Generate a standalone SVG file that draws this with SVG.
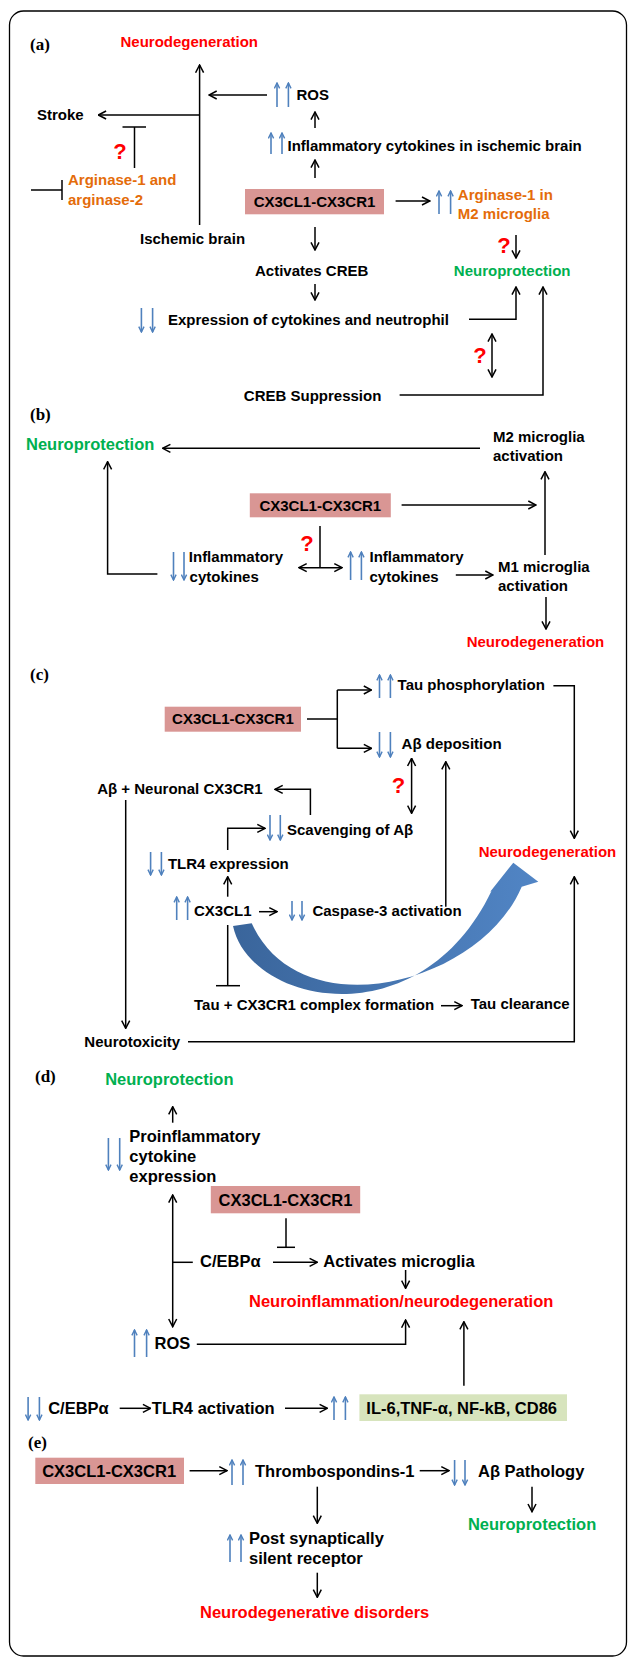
<svg xmlns="http://www.w3.org/2000/svg" width="630" height="1658" viewBox="0 0 630 1658">
<style>
.t{font-family:"Liberation Sans",Arial,sans-serif;font-weight:bold;font-size:15px;fill:#000}
.L{font-size:16.5px}
.red{fill:#ff0000}
.green{fill:#00b050}
.orange{fill:#e46c0a}
.q{font-family:"Liberation Sans",Arial,sans-serif;font-weight:bold;font-size:22px;fill:#ff0000;text-anchor:middle}
.lbl{font-family:"Liberation Serif","Times New Roman",serif;font-weight:bold;font-size:17px;fill:#000}
.c{stroke:#000;stroke-width:1.5;fill:none}
.a{marker-end:url(#ah)}
.d{marker-start:url(#ah);marker-end:url(#ah)}
.b{stroke:#4f81bd;stroke-width:1.6;fill:none;marker-end:url(#bh)}
.box{fill:#d99694}
.gbox{fill:#d7e4bd}
.mid{text-anchor:middle}
</style>
<defs>
<marker id="ah" viewBox="0 0 10 10" refX="9.2" refY="5" markerWidth="10" markerHeight="10" markerUnits="userSpaceOnUse" orient="auto-start-reverse">
<path d="M1.5,1 L9.2,5 L1.5,9" fill="none" stroke="#000" stroke-width="1.5"/>
</marker>
<marker id="bh" viewBox="0 0 8 8" refX="7.2" refY="4" markerWidth="7" markerHeight="7" markerUnits="userSpaceOnUse" orient="auto">
<path d="M1,1 L7.2,4 L1,7" fill="none" stroke="#4f81bd" stroke-width="1.6"/>
</marker>
<linearGradient id="bg" x1="0" y1="0" x2="1" y2="0">
<stop offset="0" stop-color="#3a659b"/>
<stop offset="1" stop-color="#5185c5"/>
</linearGradient>
</defs>
<rect x="0" y="0" width="630" height="1658" fill="#fff"/>
<rect x="9.5" y="11" width="617" height="1645" rx="14" fill="none" stroke="#000" stroke-width="1.3"/>

<!-- panel labels -->
<g id="labels">
<text class="lbl" x="30" y="50">(a)</text>
<text class="lbl" x="30" y="420">(b)</text>
<text class="lbl" x="30" y="680">(c)</text>
<text class="lbl" x="35" y="1082">(d)</text>
<text class="lbl" x="28" y="1448">(e)</text>
</g>

<!-- ===== (a) ===== -->
<g id="a-neurodegeneration"><text class="t red" x="120.5" y="47">Neurodegeneration</text></g>
<g id="a-stroke"><text class="t" x="37" y="120">Stroke</text></g>
<g id="a-ros"><line class="b" x1="277" y1="107" x2="277" y2="83"/><line class="b" x1="288.4" y1="107" x2="288.4" y2="83"/><text class="t" x="296.4" y="100">ROS</text></g>
<g id="a-inflam"><line class="b" x1="271" y1="154" x2="271" y2="133"/><line class="b" x1="282" y1="154" x2="282" y2="133"/><text class="t" x="287.5" y="151">Inflammatory cytokines in ischemic brain</text></g>
<g id="a-arginase12"><text class="t orange" x="68" y="185">Arginase-1 and</text><text class="t orange" x="68" y="205">arginase-2</text></g>
<g id="a-ischemic"><text class="t" x="140" y="244">Ischemic brain</text></g>
<g id="a-cx3"><rect class="box" x="245" y="189" width="139" height="25.3"/><text class="t mid" x="314.5" y="206.5">CX3CL1-CX3CR1</text></g>
<g id="a-arginase-m2"><line class="b" x1="439" y1="214" x2="439" y2="191"/><line class="b" x1="450.6" y1="214" x2="450.6" y2="191"/><text class="t orange" x="457.8" y="200">Arginase-1 in</text><text class="t orange" x="457.8" y="218.5">M2 microglia</text></g>
<g id="a-creb"><text class="t" x="255" y="276">Activates CREB</text></g>
<g id="a-neuroprotection"><text class="t green" x="453.8" y="276">Neuroprotection</text></g>
<g id="a-expression"><line class="b" x1="141.4" y1="308" x2="141.4" y2="332"/><line class="b" x1="152.6" y1="308" x2="152.6" y2="332"/><text class="t" x="168" y="325">Expression of cytokines and neutrophil</text></g>
<g id="a-crebsup"><text class="t" x="243.8" y="401">CREB Suppression</text></g>
<g id="a-q"><text class="q" x="120" y="159">?</text><text class="q" x="504" y="252.5">?</text><text class="q" x="480" y="362.5">?</text></g>

<!-- ===== (b) ===== -->
<g id="b-neuroprotection"><text class="t L green" x="26" y="450">Neuroprotection</text></g>
<g id="b-m2"><text class="t" x="493" y="442">M2 microglia</text><text class="t" x="493" y="460.5">activation</text></g>
<g id="b-cx3"><rect class="box" x="249.8" y="493.3" width="141" height="24"/><text class="t mid" x="320.3" y="510.8">CX3CL1-CX3CR1</text></g>
<g id="b-down-inflam"><line class="b" x1="173.5" y1="552" x2="173.5" y2="580"/><line class="b" x1="184" y1="552" x2="184" y2="580"/><text class="t" x="188.8" y="562">Inflammatory</text><text class="t" x="189.6" y="582">cytokines</text></g>
<g id="b-up-inflam"><line class="b" x1="350.6" y1="580" x2="350.6" y2="552"/><line class="b" x1="361.4" y1="580" x2="361.4" y2="552"/><text class="t" x="369.5" y="562">Inflammatory</text><text class="t" x="369.5" y="582">cytokines</text></g>
<g id="b-m1"><text class="t" x="498" y="572">M1 microglia</text><text class="t" x="498" y="590.5">activation</text></g>
<g id="b-neurodegeneration"><text class="t red" x="466.7" y="647">Neurodegeneration</text></g>
<g id="b-q"><text class="q" x="307" y="550.5">?</text></g>

<!-- ===== (c) ===== -->
<g id="c-cx3"><rect class="box" x="164.7" y="706.7" width="136.3" height="25"/><text class="t mid" x="232.9" y="723.8">CX3CL1-CX3CR1</text></g>
<g id="c-tau"><line class="b" x1="379.5" y1="698" x2="379.5" y2="675"/><line class="b" x1="390.4" y1="698" x2="390.4" y2="675"/><text class="t" x="397.6" y="690">Tau phosphorylation</text></g>
<g id="c-abdep"><line class="b" x1="379.5" y1="732" x2="379.5" y2="757"/><line class="b" x1="390.4" y1="732" x2="390.4" y2="757"/><text class="t" x="401.6" y="748.5">Aβ deposition</text></g>
<g id="c-abneuronal"><text class="t" x="97.2" y="793.5">Aβ + Neuronal CX3CR1</text></g>
<g id="c-scav"><line class="b" x1="270" y1="815" x2="270" y2="840"/><line class="b" x1="280.3" y1="815" x2="280.3" y2="840"/><text class="t" x="287" y="834.5">Scavenging of Aβ</text></g>
<g id="c-tlr4"><line class="b" x1="150.6" y1="852" x2="150.6" y2="875"/><line class="b" x1="161.4" y1="852" x2="161.4" y2="875"/><text class="t" x="167.9" y="868.5">TLR4 expression</text></g>
<g id="c-cx3cl1"><line class="b" x1="176.7" y1="920" x2="176.7" y2="897"/><line class="b" x1="187.6" y1="920" x2="187.6" y2="897"/><text class="t" x="194" y="916">CX3CL1</text></g>
<g id="c-casp"><line class="b" x1="292" y1="901" x2="292" y2="920"/><line class="b" x1="302" y1="901" x2="302" y2="920"/><text class="t" x="312.4" y="916">Caspase-3 activation</text></g>
<g id="c-neurodegeneration"><text class="t red" x="478.7" y="857">Neurodegeneration</text></g>
<g id="c-taucx3"><text class="t" x="194" y="1010">Tau + CX3CR1 complex formation</text></g>
<g id="c-tauclear"><text class="t" x="470.7" y="1008.5">Tau clearance</text></g>
<g id="c-neurotox"><text class="t" x="84.3" y="1047">Neurotoxicity</text></g>
<g id="c-q"><text class="q" x="398.4" y="792.5">?</text></g>

<!-- ===== (d) ===== -->
<g id="d-neuroprotection"><text class="t L green" x="105.2" y="1085">Neuroprotection</text></g>
<g id="d-proinflam"><line class="b" x1="108.4" y1="1138" x2="108.4" y2="1170"/><line class="b" x1="119.7" y1="1138" x2="119.7" y2="1170"/><text class="t L" x="129.3" y="1142">Proinflammatory</text><text class="t L" x="129.3" y="1162">cytokine</text><text class="t L" x="129.3" y="1182">expression</text></g>
<g id="d-cx3"><rect class="box" x="210.8" y="1186" width="149.4" height="27.3"/><text class="t L mid" x="285.5" y="1205.5">CX3CL1-CX3CR1</text></g>
<g id="d-cebp"><text class="t L" x="200" y="1267">C/EBPα</text></g>
<g id="d-activates"><text class="t L" x="323.3" y="1267">Activates microglia</text></g>
<g id="d-neuroinflam"><text class="t L red" x="249" y="1307">Neuroinflammation/neurodegeneration</text></g>
<g id="d-ros"><line class="b" x1="134.5" y1="1357" x2="134.5" y2="1330"/><line class="b" x1="146.6" y1="1357" x2="146.6" y2="1330"/><text class="t L" x="154.6" y="1348.5">ROS</text></g>
<g id="d-cebp2"><line class="b" x1="28.1" y1="1397" x2="28.1" y2="1420"/><line class="b" x1="39.4" y1="1397" x2="39.4" y2="1420"/><text class="t L" x="48.2" y="1413.5">C/EBPα</text></g>
<g id="d-tlr4"><text class="t L" x="151.8" y="1413.5">TLR4 activation</text></g>
<g id="d-il6"><line class="b" x1="334" y1="1420" x2="334" y2="1397"/><line class="b" x1="345.4" y1="1420" x2="345.4" y2="1397"/><rect class="gbox" x="359.4" y="1394.3" width="207.6" height="26.7"/><text class="t L" x="366.3" y="1413.5">IL-6,TNF-α, NF-kB, CD86</text></g>

<!-- ===== (e) ===== -->
<g id="e-cx3"><rect class="box" x="35.3" y="1457.7" width="148.7" height="26.3"/><text class="t L" x="42.2" y="1477">CX3CL1-CX3CR1</text></g>
<g id="e-thrombo"><line class="b" x1="232" y1="1485" x2="232" y2="1460"/><line class="b" x1="243" y1="1485" x2="243" y2="1460"/><text class="t L" x="255" y="1477">Thrombospondins-1</text></g>
<g id="e-abpath"><line class="b" x1="454.6" y1="1460" x2="454.6" y2="1485"/><line class="b" x1="465" y1="1460" x2="465" y2="1485"/><text class="t L" x="478" y="1477">Aβ Pathology</text></g>
<g id="e-neuroprotection"><text class="t L green" x="467.9" y="1530">Neuroprotection</text></g>
<g id="e-postsyn"><line class="b" x1="230" y1="1562" x2="230" y2="1535"/><line class="b" x1="241" y1="1562" x2="241" y2="1535"/><text class="t L" x="249" y="1543.5">Post synaptically</text><text class="t L" x="249" y="1563.5">silent receptor</text></g>
<g id="e-neurodeg"><text class="t L red" x="200" y="1617.5">Neurodegenerative disorders</text></g>

<!-- ===== connectors ===== -->
<g id="connectors">
<!-- (a) -->
<line class="c a" x1="199.6" y1="225" x2="199.6" y2="65"/>
<line class="c a" x1="199.6" y1="115" x2="98.4" y2="115"/>
<line class="c a" x1="267" y1="95" x2="209" y2="95"/>
<line class="c a" x1="315" y1="128" x2="315" y2="112"/>
<line class="c a" x1="315" y1="178" x2="315" y2="160"/>
<line class="c" x1="134.5" y1="168" x2="134.5" y2="127"/>
<line class="c" x1="122.5" y1="127" x2="146" y2="127"/>
<line class="c" x1="31" y1="190" x2="62" y2="190"/>
<line class="c" x1="62" y1="180" x2="62" y2="200"/>
<line class="c a" x1="395.6" y1="201" x2="429.7" y2="201"/>
<line class="c a" x1="315" y1="227" x2="315" y2="250"/>
<line class="c a" x1="516" y1="235" x2="516" y2="258"/>
<line class="c a" x1="315" y1="284" x2="315" y2="300"/>
<polyline class="c a" points="469,319.3 516,319.3 516,287"/>
<line class="c d" x1="492" y1="334" x2="492" y2="377"/>
<polyline class="c a" points="399.6,395 543,395 543,287"/>
<!-- (b) -->
<line class="c a" x1="480" y1="448.3" x2="162.7" y2="448.3"/>
<line class="c a" x1="545" y1="555" x2="545" y2="471.7"/>
<line class="c a" x1="401.6" y1="505" x2="536" y2="505"/>
<line class="c" x1="320" y1="526" x2="320" y2="567.7"/>
<line class="c d" x1="299" y1="567.7" x2="342" y2="567.7"/>
<polyline class="c a" points="157.4,574 107.6,574 107.6,461.7"/>
<line class="c a" x1="455.8" y1="575" x2="493" y2="575"/>
<line class="c a" x1="546" y1="597" x2="546" y2="629"/>
<!-- (c) -->
<line class="c" x1="307" y1="719" x2="337.3" y2="719"/>
<line class="c" x1="337.3" y1="690" x2="337.3" y2="748.3"/>
<line class="c a" x1="337.3" y1="690" x2="371.5" y2="690"/>
<line class="c a" x1="337.3" y1="748.3" x2="371.5" y2="748.3"/>
<polyline class="c a" points="553.4,685.7 574.3,685.7 574.3,838.3"/>
<line class="c d" x1="411.6" y1="758.3" x2="411.6" y2="813.3"/>
<line class="c a" x1="445.8" y1="906.7" x2="445.8" y2="761.7"/>
<polyline class="c a" points="310.4,815 310.4,789.3 275,789.3"/>
<line class="c a" x1="125.7" y1="800" x2="125.7" y2="1028.3"/>
<polyline class="c a" points="227.7,850 227.7,828.3 265,828.3"/>
<line class="c a" x1="227.7" y1="896.7" x2="227.7" y2="876.7"/>
<line class="c a" x1="259" y1="911.7" x2="277" y2="911.7"/>
<polyline class="c a" points="188,1041.7 574.3,1041.7 574.3,876.7"/>
<line class="c" x1="227.7" y1="925" x2="227.7" y2="985.7"/>
<line class="c" x1="216" y1="985.7" x2="240" y2="985.7"/>
<line class="c a" x1="441" y1="1005.7" x2="462" y2="1005.7"/>
<path d="M233,926 C250,1005 420,1040 491.5,891 L490,892 L513.3,862.7 L538.3,881.7 L521.7,886.7 C480,985 300,1030 251.7,923.3 Z" fill="url(#bg)"/>
<!-- (d) -->
<line class="c a" x1="172.7" y1="1122.7" x2="172.7" y2="1106.7"/>
<line class="c d" x1="172.7" y1="1195" x2="172.7" y2="1326.7"/>
<line class="c" x1="286" y1="1218.3" x2="286" y2="1247.3"/>
<line class="c" x1="277" y1="1247.3" x2="295" y2="1247.3"/>
<line class="c" x1="172.7" y1="1262.3" x2="192.8" y2="1262.3"/>
<line class="c a" x1="273" y1="1262.3" x2="317.3" y2="1262.3"/>
<line class="c a" x1="405.6" y1="1270" x2="405.6" y2="1288.3"/>
<polyline class="c a" points="196.8,1344.3 405.6,1344.3 405.6,1320"/>
<line class="c a" x1="463.9" y1="1385.7" x2="463.9" y2="1321.7"/>
<line class="c a" x1="119.7" y1="1408.3" x2="150.6" y2="1408.3"/>
<line class="c a" x1="285" y1="1408.3" x2="327.3" y2="1408.3"/>
<!-- (e) -->
<line class="c a" x1="189.6" y1="1470.7" x2="227" y2="1470.7"/>
<line class="c a" x1="419.7" y1="1470.7" x2="449" y2="1470.7"/>
<line class="c a" x1="317.3" y1="1486.7" x2="317.3" y2="1523.3"/>
<line class="c a" x1="532" y1="1486.7" x2="532" y2="1511.7"/>
<line class="c a" x1="317.3" y1="1572.7" x2="317.3" y2="1597.3"/>
</g>
</svg>
